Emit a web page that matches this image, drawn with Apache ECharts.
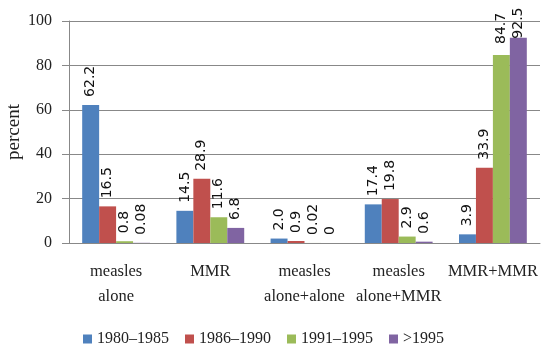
<!DOCTYPE html>
<html><head><meta charset="utf-8">
<script src="https://cdn.jsdelivr.net/npm/echarts@6/dist/echarts.min.js"></script>
<style>html,body{margin:0;padding:0;background:#fff}#c{width:550px;height:349px}</style>
</head><body><div id="c"></div>
<script>
const categories = ['measles\nalone', 'MMR', 'measles\nalone+alone', 'measles\nalone+MMR', 'MMR+MMR'];
const seriesNames = ['1980–1985', '1986–1990', '1991–1995', '>1995'];
const v1980 = [62.2, 14.5, 2.0, 17.4, 3.9];
const v1986 = [16.5, 28.9, 0.9, 19.8, 33.9];
const v1991 = [0.8, 11.6, 0.02, 2.9, 84.7];
const v1995 = [0.08, 6.8, 0, 0.6, 92.5];
const t1980 = ['62.2', '14.5', '2.0', '17.4', '3.9'];
const t1986 = ['16.5', '28.9', '0.9', '19.8', '33.9'];
const t1991 = ['0.8', '11.6', '0.02', '2.9', '84.7'];
const t1995 = ['0.08', '6.8', '0', '0.6', '92.5'];
const yTicks = [0, 20, 40, 60, 80, 100];
const colors = ['#4F81BD', '#C0504D', '#9BBB59', '#8064A2'];

const values = [v1980, v1986, v1991, v1995];
const texts = [t1980, t1986, t1991, t1995];
const serif = 'Liberation Serif';
// labels near the top edge were pushed inside the chart area in the original
const distanceOverride = { '2-4': 11, '3-4': -1 };
const chart = echarts.init(document.getElementById('c'));
chart.setOption({
  animation: false,
  color: colors,
  grid: { left: 69, right: 10, top: 21, bottom: 106, containLabel: false, outerBoundsMode: 'none' },
  legend: {
    left: 78, top: 326, itemWidth: 9, itemHeight: 9, itemGap: 16,
    icon: 'rect',
    textStyle: { fontFamily: serif, fontSize: 16, color: '#222' },
    data: seriesNames
  },
  xAxis: {
    type: 'category', data: categories,
    axisLine: { lineStyle: { color: '#888' } },
    axisTick: { length: 5, lineStyle: { color: '#888' } },
    axisLabel: { fontFamily: serif, fontSize: 16.5, color: '#222', lineHeight: 25, margin: 16, interval: 0 }
  },
  yAxis: {
    type: 'value', min: yTicks[0], max: yTicks[yTicks.length - 1], interval: 20,
    name: 'percent', nameLocation: 'middle', nameGap: 45, nameMoveOverlap: false,
    nameTextStyle: { fontFamily: serif, fontSize: 19, color: '#222' },
    axisLine: { show: true, lineStyle: { color: '#888' } },
    axisTick: { show: true, length: 7, lineStyle: { color: '#888' } },
    splitLine: { lineStyle: { color: '#888' } },
    axisLabel: { fontFamily: serif, fontSize: 16, color: '#222', margin: 17 }
  },
  series: seriesNames.map((n, i) => ({
    name: n, type: 'bar',
    data: values[i].map((v, j) => {
      const d = distanceOverride[i + '-' + j];
      return d === undefined ? v : { value: v, label: { distance: d } };
    }),
    barGap: 0, barCategoryGap: '28%',
    label: {
      show: true, position: 'top', rotate: 90, align: 'left', verticalAlign: 'middle',
      distance: 8, fontFamily: 'DejaVu Sans', fontSize: 14, color: '#111',
      formatter: p => texts[i][p.dataIndex]
    }
  }))
});
</script></body></html>
